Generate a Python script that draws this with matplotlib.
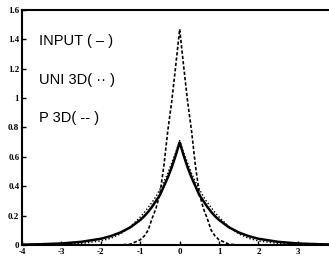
import matplotlib
matplotlib.use("Agg")
import matplotlib.pyplot as plt

plt.rcParams["axes.unicode_minus"] = False

x_vals = [-4.0, -3.5, -3.0, -2.5, -2.0, -1.75, -1.5, -1.25, -1.0, -0.9, -0.8, -0.7,
          -0.6, -0.5, -0.4, -0.3, -0.2, -0.1, 0.0, 0.1, 0.2, 0.3, 0.4, 0.5, 0.6,
          0.7, 0.8, 0.9, 1.0, 1.25, 1.5, 1.75, 2.0, 2.5, 3.0, 3.5, 4.0]

# INPUT (solid)
input_vals = [0.002, 0.005, 0.010, 0.021, 0.042, 0.060, 0.085, 0.120, 0.170, 0.195,
              0.225, 0.260, 0.300, 0.340, 0.400, 0.460, 0.530, 0.610, 0.700, 0.610,
              0.530, 0.460, 0.400, 0.340, 0.300, 0.260, 0.225, 0.195, 0.170, 0.120,
              0.085, 0.060, 0.042, 0.021, 0.010, 0.005, 0.002]

# UNI3D (dotted)
uni3d_vals = [0.000, 0.001, 0.004, 0.010, 0.027, 0.045, 0.075, 0.125, 0.190, 0.220,
              0.255, 0.290, 0.330, 0.380, 0.430, 0.490, 0.560, 0.630, 0.710, 0.630,
              0.560, 0.490, 0.430, 0.380, 0.330, 0.290, 0.255, 0.220, 0.190, 0.125,
              0.075, 0.045, 0.027, 0.010, 0.004, 0.001, 0.000]

# P3D (dashed)
p3d_vals = [0.0, 0.0, 0.0, 0.0, 0.0, 0.0, 0.0, 0.005, 0.035, 0.060,
            0.100, 0.180, 0.250, 0.350, 0.540, 0.780, 0.980, 1.220, 1.470, 1.220,
            0.980, 0.780, 0.540, 0.350, 0.250, 0.180, 0.100, 0.060, 0.035, 0.005,
            0.0, 0.0, 0.0, 0.0, 0.0, 0.0, 0.0]

x_ticks = [-4, -3, -2, -1, 0, 1, 2, 3]
x_ticklabels = ["-4", "-3", "-2", "-1", "0", "1", "2", "3"]
y_ticks = [0, 0.2, 0.4, 0.6, 0.8, 1.0, 1.2, 1.4, 1.6]
y_ticklabels = ["0", "0.2", "0.4", "0.6", "0.8", "1", "1.2", "1.4", "1.6"]

labels = ["INPUT ( \u2013 )", "UNI 3D( \u00b7\u00b7 )", "P 3D( -- )"]
label_y = [1.39, 1.12, 0.865]

fig = plt.figure(figsize=(3.29, 2.57), dpi=100)
ax = fig.add_axes([0.067, 0.047, 0.933, 0.914])

ax.plot(x_vals, input_vals, color="black", lw=1.8, solid_joinstyle="miter")
ax.plot(x_vals, uni3d_vals, color="black", lw=1.0, linestyle=(0, (1, 1.5)))
ax.plot(x_vals, p3d_vals, color="black", lw=1.2, linestyle=(0, (2, 1.2)))

ax.set_xlim(-4, 3.79)
ax.set_ylim(0, 1.6)

ax.set_xticks(x_ticks)
ax.set_xticklabels(x_ticklabels)
ax.set_yticks(y_ticks)
ax.set_yticklabels(y_ticklabels)
ax.tick_params(direction="in", length=3, width=1, pad=2)
for lab in ax.get_xticklabels() + ax.get_yticklabels():
    lab.set_fontsize(6.5)
    lab.set_fontweight("bold")
    lab.set_family("Liberation Serif")

ax.spines["right"].set_visible(False)
for side in ("left", "bottom", "top"):
    ax.spines[side].set_linewidth(1.5)

for txt, yy in zip(labels, label_y):
    ax.text(-3.56, yy, txt, fontsize=10.5, family="Liberation Sans",
            ha="left", va="center")

fig.savefig("out.png", dpi=100)
